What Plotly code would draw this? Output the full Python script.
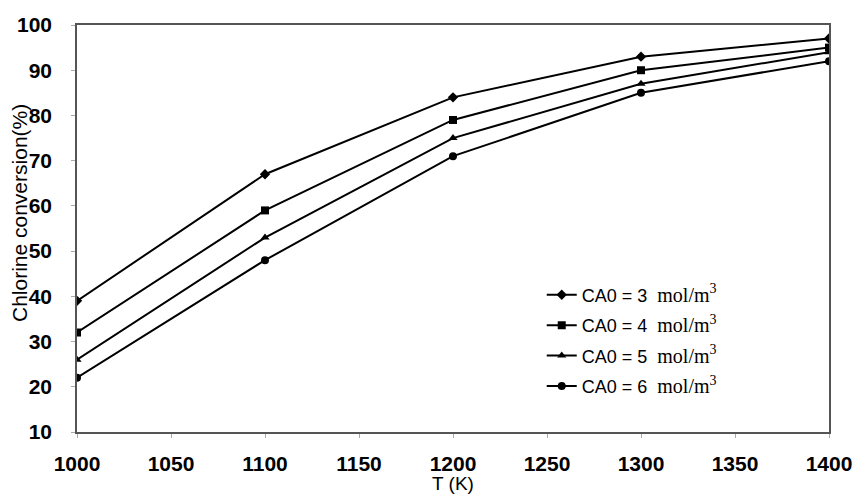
import plotly.graph_objects as go

T = [1000, 1100, 1200, 1300, 1400]
ca0_3 = [39, 67, 84, 93, 97]
ca0_4 = [32, 59, 79, 90, 95]
ca0_5 = [26, 53, 75, 87, 94]
ca0_6 = [22, 48, 71, 85, 92]
names = ["3", "4", "5", "6"]
series = [ca0_3, ca0_4, ca0_5, ca0_6]
symbols = ["diamond", "square", "triangle-up", "circle"]
x_ticks = [1000, 1050, 1100, 1150, 1200, 1250, 1300, 1350, 1400]
y_ticks = [10, 20, 30, 40, 50, 60, 70, 80, 90, 100]

fig = go.Figure()
for i, (n, ys, sym) in enumerate(zip(names, series, symbols)):
    fig.add_trace(go.Scatter(
        x=T, y=ys, mode="lines+markers",
        name=f"CA0 = {n}  <span style='font-family:Liberation Serif;font-size:20px'>mol/m<sup>3</sup></span>",
        legendgroup=f"g{i}",
        line=dict(color="black", width=2),
        marker=dict(symbol=sym, size=8, color="black"),
    ))

fig.update_layout(
    width=856, height=494,
    margin=dict(l=77, r=27, t=25, b=62),
    paper_bgcolor="white", plot_bgcolor="white",
    font=dict(family="Liberation Sans, Arial", color="black", size=18),
    showlegend=True,
    legend=dict(x=0.618, y=0.382, xanchor="left", yanchor="top",
                bgcolor="rgba(0,0,0,0)", font=dict(size=18), tracegroupgap=4,
                itemwidth=30),
)
fig.update_xaxes(
    range=[1000, 1400], tickvals=x_ticks, showgrid=False, zeroline=False,
    showline=True, linecolor="#555", linewidth=1.5, mirror=True,
    ticks="outside", ticklen=4, tickcolor="#aaa", automargin=False,
    tickfont=dict(size=21, weight="bold"), ticklabelstandoff=8,
    title=dict(text="T (K)", standoff=7, font=dict(size=19)),
)
fig.update_yaxes(
    range=[10, 100], tickvals=y_ticks, showgrid=False, zeroline=False,
    showline=True, linecolor="#555", linewidth=1.5, mirror=True,
    ticks="outside", ticklen=4, tickcolor="#aaa", automargin=False,
    tickfont=dict(size=21, weight="bold"), ticklabelstandoff=15,
)
fig.add_annotation(
    text="Chlorine conversion(%)", textangle=-90, showarrow=False,
    xref="paper", yref="paper", x=(19 - 77) / 752, y=0.538,
    xanchor="center", yanchor="middle", font=dict(size=21),
)
fig.write_html("out.html", post_script="document.body.style.margin='0';",
               config={"displayModeBar": False})
